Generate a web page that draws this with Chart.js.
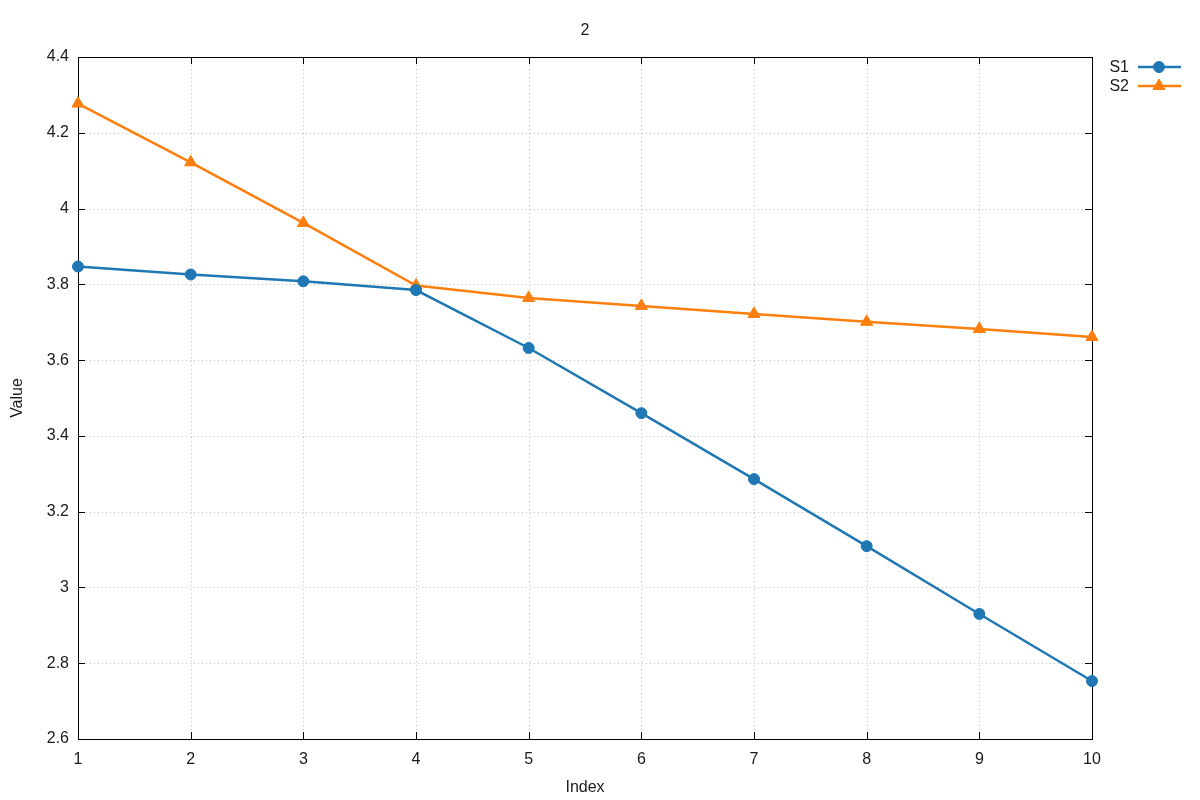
<!DOCTYPE html>
<html>
<head>
<meta charset="utf-8">
<title>2</title>
<script src="https://cdn.jsdelivr.net/npm/chart.js@4/dist/chart.umd.min.js"></script>
<style>
  html, body { margin: 0; padding: 0; background: #fff; }
  #wrap { width: 1200px; height: 800px; }
</style>
</head>
<body>
<div id="wrap"><canvas id="grafico" width="1200" height="800"></canvas></div>
<script>
const indices = [1, 2, 3, 4, 5, 6, 7, 8, 9, 10];
const s1 = [3.847, 3.826, 3.808, 3.785, 3.632, 3.460, 3.286, 3.109, 2.930, 2.753];
const s2 = [4.277, 4.122, 3.962, 3.797, 3.764, 3.743, 3.722, 3.701, 3.682, 3.661];
const yTicks = [2.6, 2.8, 3, 3.2, 3.4, 3.6, 3.8, 4, 4.2, 4.4];
const tituloGrafico = '2';
const tituloX = 'Index';
const tituloY = 'Value';

const fonte = '16px "Liberation Sans", Arial, sans-serif';
const corTexto = '#1a1a1a';

function pontos(valores) {
    return indices.map((x, i) => ({ x, y: valores[i] }));
}

// frame, dotted grid, inward ticks, titles and key drawn gnuplot style
const molduraGnuplot = {
    id: 'molduraGnuplot',
    beforeDatasetsDraw(chart) {
        const { ctx, chartArea: a, scales: { x, y } } = chart;
        ctx.save();
        ctx.lineWidth = 1;
        ctx.strokeStyle = '#bdbdbd';
        ctx.setLineDash([1, 3]);
        x.ticks.forEach(t => {
            const px = Math.round(x.getPixelForValue(t.value)) + 0.5;
            ctx.beginPath(); ctx.moveTo(px, a.top); ctx.lineTo(px, a.bottom); ctx.stroke();
        });
        y.ticks.forEach(t => {
            const py = Math.round(y.getPixelForValue(t.value)) + 0.5;
            ctx.beginPath(); ctx.moveTo(a.left, py); ctx.lineTo(a.right, py); ctx.stroke();
        });
        ctx.setLineDash([]);
        ctx.strokeStyle = '#000';
        const tam = 7;
        x.ticks.forEach(t => {
            const px = Math.round(x.getPixelForValue(t.value)) + 0.5;
            ctx.beginPath();
            ctx.moveTo(px, a.bottom); ctx.lineTo(px, a.bottom - tam);
            ctx.moveTo(px, a.top); ctx.lineTo(px, a.top + tam);
            ctx.stroke();
        });
        y.ticks.forEach(t => {
            const py = Math.round(y.getPixelForValue(t.value)) + 0.5;
            ctx.beginPath();
            ctx.moveTo(a.left, py); ctx.lineTo(a.left + tam, py);
            ctx.moveTo(a.right, py); ctx.lineTo(a.right - tam, py);
            ctx.stroke();
        });
        ctx.strokeRect(Math.round(a.left) + 0.5, Math.round(a.top) + 0.5,
            Math.round(a.right - a.left), Math.round(a.bottom - a.top));
        ctx.restore();
    },
    afterDraw(chart) {
        const { ctx, chartArea: a } = chart;
        ctx.save();
        ctx.font = fonte;
        ctx.fillStyle = corTexto;
        ctx.textAlign = 'center';
        ctx.textBaseline = 'middle';
        const cx = (a.left + a.right) / 2;
        ctx.fillText(tituloGrafico, cx, 31);
        ctx.fillText(tituloX, cx, 788);
        ctx.save();
        ctx.translate(18, (a.top + a.bottom) / 2);
        ctx.rotate(-Math.PI / 2);
        ctx.fillText(tituloY, 0, 0);
        ctx.restore();

        // key
        chart.data.datasets.forEach((ds, i) => {
            const ly = 67 + i * 19;
            ctx.textAlign = 'right';
            ctx.fillStyle = corTexto;
            ctx.fillText(ds.label, 1129, ly + 1);
            ctx.strokeStyle = ds.borderColor;
            ctx.lineWidth = 2.5;
            ctx.beginPath(); ctx.moveTo(1138, ly); ctx.lineTo(1181, ly); ctx.stroke();
            ctx.fillStyle = ds.pointBackgroundColor;
            ctx.strokeStyle = ds.pointBorderColor;
            ctx.lineWidth = 1;
            Chart.helpers.drawPoint(ctx, {
                pointStyle: ds.pointStyle, radius: ds.pointRadius, rotation: 0, borderWidth: 1
            }, 1159, ly);
        });
        ctx.restore();
    }
};

new Chart(document.getElementById('grafico'), {
    type: 'line',
    data: {
        datasets: [
            {
                label: 'S1', data: pontos(s1),
                borderColor: '#1f77b4', backgroundColor: '#1f77b4',
                pointBackgroundColor: '#1f77b4', pointBorderColor: '#1f77b4',
                borderWidth: 2.5, pointStyle: 'circle', pointRadius: 5.5, pointBorderWidth: 1,
                tension: 0, clip: false
            },
            {
                label: 'S2', data: pontos(s2),
                borderColor: '#ff7f0e', backgroundColor: '#ff7f0e',
                pointBackgroundColor: '#ff7f0e', pointBorderColor: '#ff7f0e',
                borderWidth: 2.5, pointStyle: 'triangle', pointRadius: 7, pointBorderWidth: 1,
                tension: 0, clip: false
            }
        ]
    },
    options: {
        responsive: false,
        animation: false,
        layout: { padding: { top: 57, right: 108, bottom: 0, left: 0 } },
        plugins: {
            legend: { display: false },
            title: { display: false },
            tooltip: { enabled: false }
        },
        scales: {
            x: {
                type: 'linear', min: 1, max: 10,
                grid: { display: false },
                border: { display: false },
                ticks: {
                    stepSize: 1, padding: 3, color: corTexto, maxRotation: 0,
                    font: { family: '"Liberation Sans", Arial, sans-serif', size: 16 }
                },
                afterFit(scale) { scale.height = 61; }
            },
            y: {
                type: 'linear', min: yTicks[0], max: yTicks[yTicks.length - 1],
                grid: { display: false },
                border: { display: false },
                afterBuildTicks(scale) { scale.ticks = yTicks.map(v => ({ value: v })); },
                ticks: {
                    padding: 1, color: corTexto,
                    font: { family: '"Liberation Sans", Arial, sans-serif', size: 16 },
                    callback: v => String(parseFloat(Number(v).toFixed(1)))
                },
                afterFit(scale) { scale.width = 78; }
            }
        }
    },
    plugins: [molduraGnuplot]
});
</script>
</body>
</html>
